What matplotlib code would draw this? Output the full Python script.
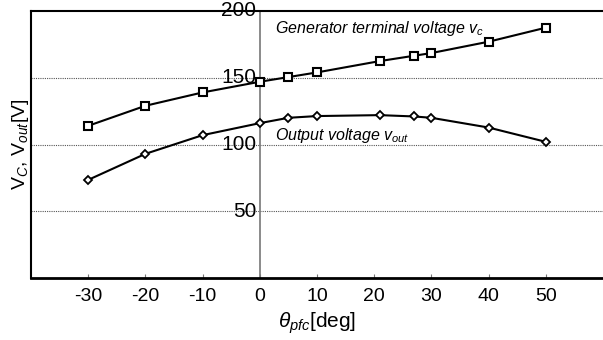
import matplotlib
matplotlib.use("Agg")
import matplotlib.pyplot as plt

theta = [-30, -20, -10, 0, 5, 10, 21, 27, 30, 40, 50]
v_c = [114, 129, 139, 147, 150.5, 154, 162.5, 166.5, 168.5, 177, 187.5]
v_out = [73.5, 93, 107, 116, 120, 121.3, 122, 121, 120, 112.7, 102]
x_ticks = [-30, -20, -10, 0, 10, 20, 30, 40, 50]
y_ticks = [50, 100, 150, 200]

plt.rcParams["font.family"] = ["Liberation Sans", "DejaVu Sans"]
plt.rcParams["mathtext.fontset"] = "custom"
plt.rcParams["mathtext.rm"] = "Liberation Sans"
plt.rcParams["mathtext.it"] = "Liberation Sans:italic"

fig = plt.figure(figsize=(6.03, 3.4), dpi=100)
ax = fig.add_axes([31 / 603, 62 / 340, 1 - 31 / 603, 267 / 340])

ax.set_xlim(-40, 60)
ax.set_ylim(0, 200)

for y in [50, 100, 150]:
    ax.axhline(y, color="#555", linestyle=(0, (1, 1)), linewidth=0.8, zorder=1)
ax.axvline(0, color="#777", linewidth=1.2, zorder=1)

ax.plot(theta, v_c, color="black", linewidth=1.5, marker="s", markersize=6,
        markerfacecolor="white", markeredgecolor="black", markeredgewidth=1.5, zorder=3)
ax.plot(theta, v_out, color="black", linewidth=1.5, marker="D", markersize=4.5,
        markerfacecolor="white", markeredgecolor="black", markeredgewidth=1.3, zorder=3)

ax.text(2.6, 187, "Generator terminal voltage $v_c$", fontsize=11.5, style="italic",
        ha="left", va="center")
ax.text(2.6, 107, "Output voltage $v_{out}$", fontsize=11.5, style="italic",
        ha="left", va="center")

ax.set_xticks(x_ticks)
ax.set_xticklabels([str(t) for t in x_ticks], fontsize=14)
ax.tick_params(axis="x", direction="in", length=3, color="#777", pad=7)
ax.set_yticks([])
for y in y_ticks:
    ax.text(-0.6, y, str(y), fontsize=15, ha="right", va="center")

for s in ["left", "top"]:
    ax.spines[s].set_linewidth(1.5)
ax.spines["bottom"].set_linewidth(2)
ax.spines["right"].set_visible(False)

ax.set_xlabel(r"$\theta_{pfc}$[deg]", fontsize=15, labelpad=4)
ax.set_ylabel(r"$\mathrm{V}_{C}$, $\mathrm{V}_{out}$[V]", fontsize=14, labelpad=0)

fig.savefig("out.png", dpi=100)
